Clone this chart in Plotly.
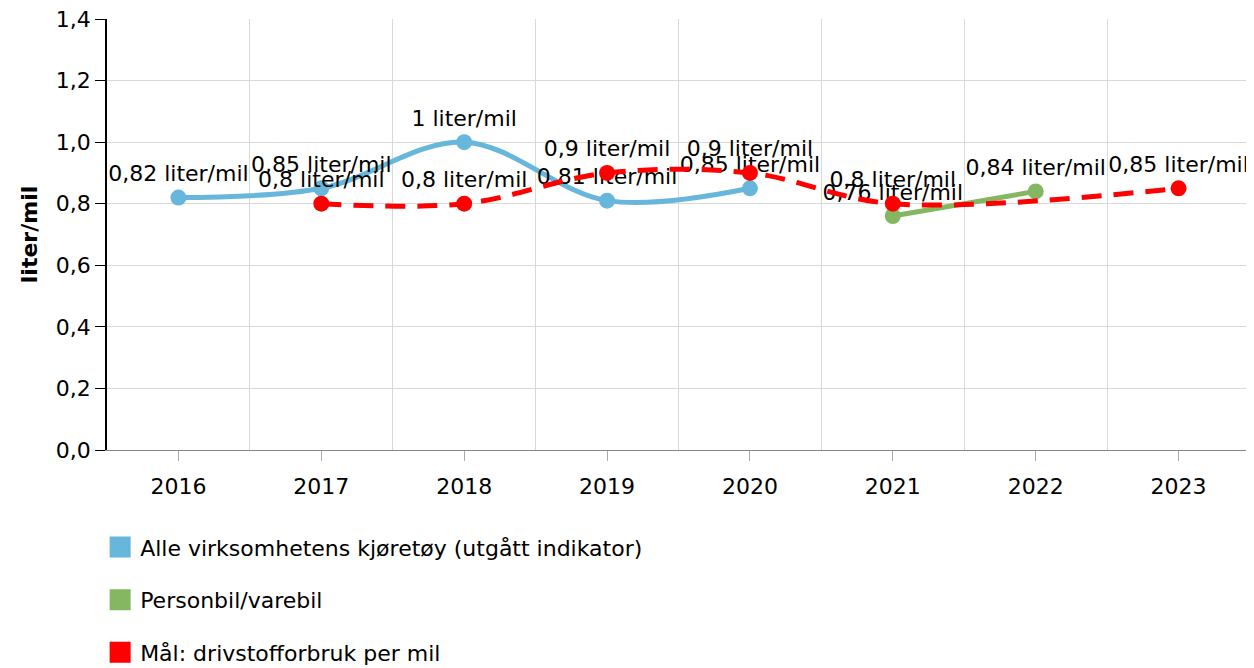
import plotly.graph_objects as go

years = [2016, 2017, 2018, 2019, 2020, 2021, 2022, 2023]
y_ticks = [0.0, 0.2, 0.4, 0.6, 0.8, 1.0, 1.2, 1.4]
y_ticktext = ["0,0", "0,2", "0,4", "0,6", "0,8", "1,0", "1,2", "1,4"]

alle_x = [2016, 2017, 2018, 2019, 2020]
alle_y = [0.82, 0.85, 1.0, 0.81, 0.85]

person_x = [2021, 2022]
person_y = [0.76, 0.84]

maal_x = [2017, 2018, 2019, 2020, 2021, 2023]
maal_y = [0.8, 0.8, 0.9, 0.9, 0.8, 0.85]

names = ["Alle virksomhetens kjøretøy (utgått indikator)",
         "Personbil/varebil",
         "Mål: drivstofforbruk per mil"]
colors = ["#67b6dc", "#84b761", "#ff0000"]

FONT = "DejaVu Sans, Verdana, sans-serif"
FS = 22


def lbl(vals):
    return [("%g" % v).replace(".", ",") + " liter/mil" for v in vals]


fig = go.Figure()

fig.add_trace(go.Scatter(
    x=alle_x, y=alle_y, mode="lines+markers+text",
    line=dict(color=colors[0], width=5, shape="spline", smoothing=1),
    marker=dict(size=16, color=colors[0]),
    text=lbl(alle_y), textposition="top center",
    textfont=dict(size=FS, color="#000000", family=FONT),
    showlegend=False, cliponaxis=False))

fig.add_trace(go.Scatter(
    x=person_x, y=person_y, mode="lines+markers+text",
    line=dict(color=colors[1], width=5),
    marker=dict(size=16, color=colors[1]),
    text=lbl(person_y), textposition="top center",
    textfont=dict(size=FS, color="#000000", family=FONT),
    showlegend=False, cliponaxis=False))

fig.add_trace(go.Scatter(
    x=maal_x, y=maal_y, mode="lines+markers+text",
    line=dict(color=colors[2], width=5, shape="spline", smoothing=1, dash="20px,12px"),
    marker=dict(size=16, color=colors[2]),
    text=lbl(maal_y), textposition="top center",
    textfont=dict(size=FS, color="#000000", family=FONT),
    showlegend=False, cliponaxis=False, connectgaps=True))

for i, (n, c) in enumerate(zip(names, colors)):
    fig.add_trace(go.Scatter(
        x=[None], y=[None], mode="markers", name=n,
        marker=dict(symbol="square", size=16, color=c, line=dict(color=c, width=5)),
        legendgroup="g%d" % i, showlegend=True))

fig.update_layout(
    width=1246, height=660,
    margin=dict(l=99, r=4, t=11, b=218, autoexpand=False),
    paper_bgcolor="white", plot_bgcolor="white",
    font=dict(family=FONT, size=FS, color="#000000"),
    showlegend=True,
    legend=dict(
        x=-0.006, xanchor="left", y=-0.177, yanchor="top",
        orientation="v", tracegroupgap=21,
        font=dict(size=FS, family=FONT, color="#000000"),
        itemsizing="trace",
    ),
    xaxis=dict(
        range=[2015.5, 2023.5],
        tickmode="array", tickvals=years, ticktext=[str(y) for y in years],
        showgrid=False, zeroline=False,
        showline=True, linecolor="#888888", linewidth=1,
        ticks="outside", ticklen=10, tickcolor="#aaaaaa",
        ticklabelstandoff=7,
        tickfont=dict(size=FS, family=FONT, color="#000000"),
        minor=dict(tickmode="array",
                   tickvals=[y + 0.5 for y in years[:-1]],
                   showgrid=True, gridcolor="#d9d9d9", gridwidth=1, ticks=""),
    ),
    yaxis=dict(
        range=[0, 1.4],
        tickmode="array", tickvals=y_ticks, ticktext=y_ticktext,
        ticklabeloverflow="allow",
        showgrid=True, gridcolor="#d9d9d9", gridwidth=1,
        zeroline=False,
        showline=True, linecolor="#000000", linewidth=1.5,
        ticks="outside", ticklen=10, tickcolor="#000000",
        tickfont=dict(size=FS, family=FONT, color="#000000"),
        title=dict(text="<b>liter/mil</b>", font=dict(size=FS, family=FONT, color="#000000"), standoff=12),
    ),
)

fig.write_html("out.html")
